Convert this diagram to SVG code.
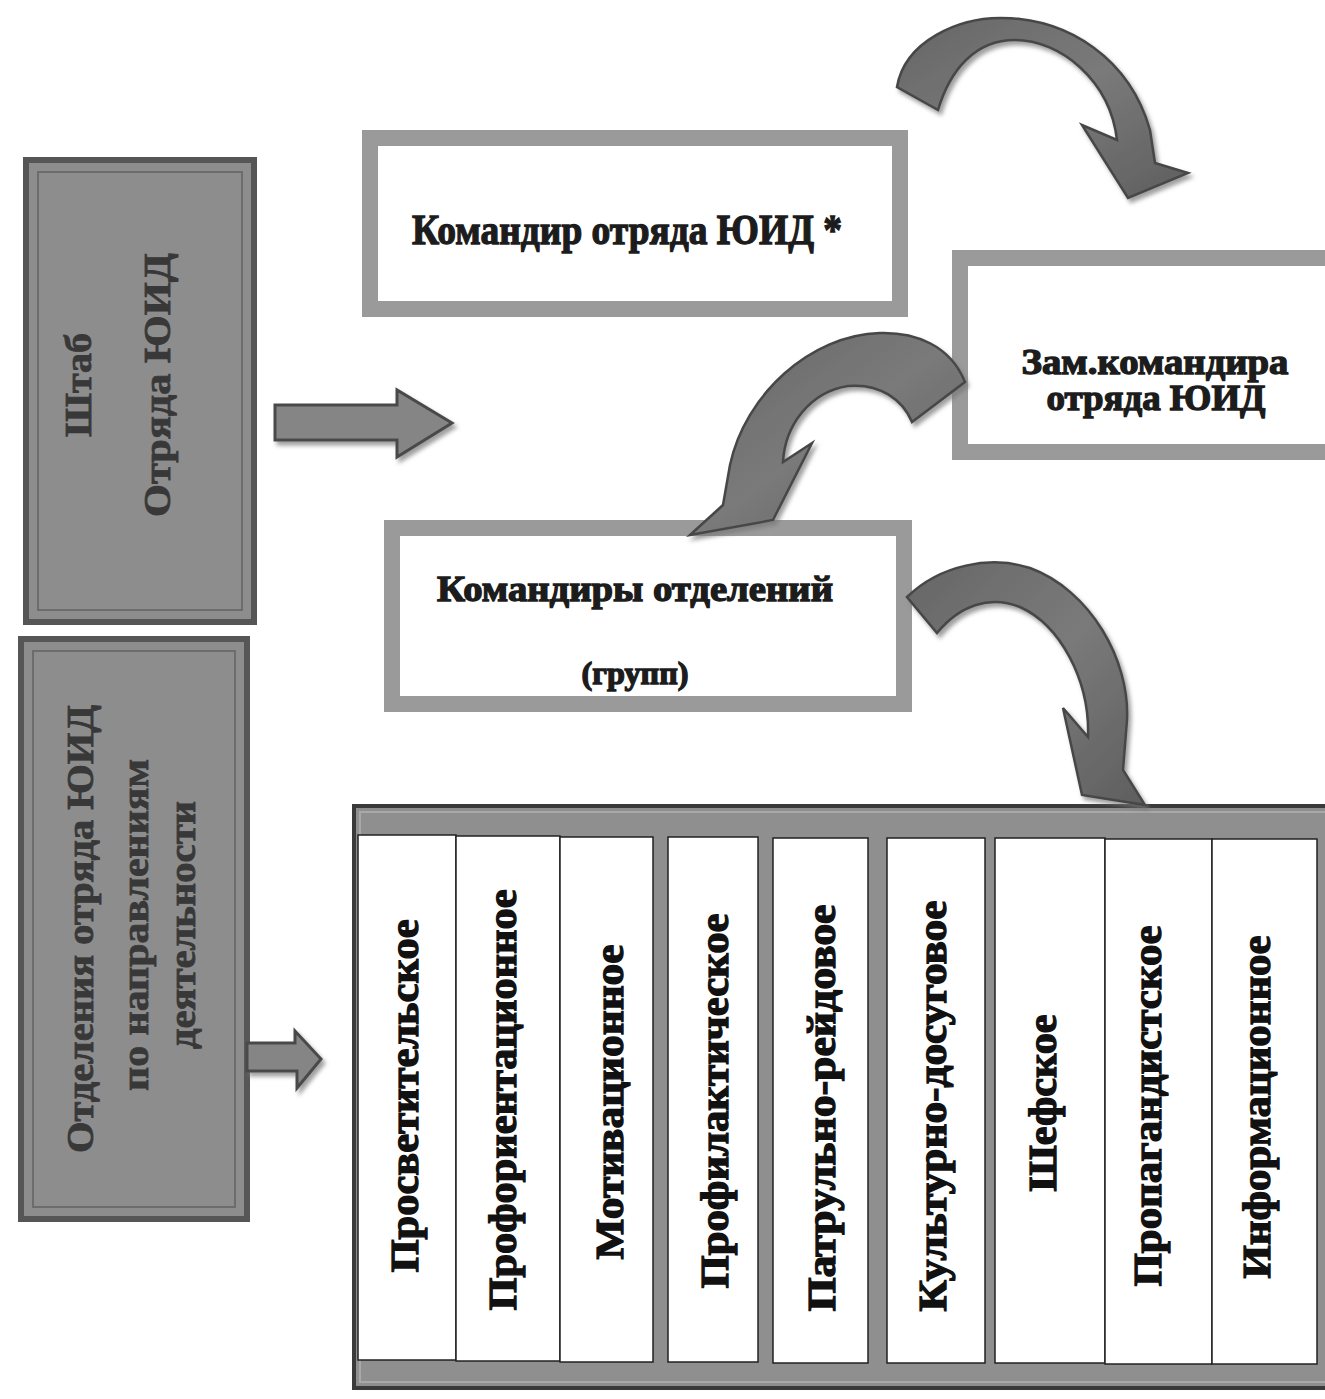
<svg xmlns="http://www.w3.org/2000/svg" width="1325" height="1399" viewBox="0 0 1325 1399">
<defs>
<filter id="sh" x="-20%" y="-20%" width="140%" height="140%"><feDropShadow dx="3" dy="4" stdDeviation="2" flood-color="#777" flood-opacity="0.7"/></filter>
<linearGradient id="cg" x1="0" y1="0" x2="1" y2="1"><stop offset="0" stop-color="#666"/><stop offset="0.5" stop-color="#7a7a7a"/><stop offset="1" stop-color="#5e5e5e"/></linearGradient>
<style>
.t{font-family:"Liberation Serif","Times New Roman",serif;font-weight:bold;}
.col{font-size:40px;fill:#111;stroke:#111;stroke-width:1.3;text-anchor:middle}
.side{font-size:37px;fill:#383838;stroke:#383838;stroke-width:0.8;text-anchor:middle}
.hd{fill:#1c1c1c;stroke:#1c1c1c;stroke-width:1.3;text-anchor:middle}
.frame{fill:#fff;stroke:#9a9a9a;stroke-width:16}
.carrow{fill:url(#cg);stroke:#474747;stroke-width:2.5;filter:url(#sh)}
.sarrow{fill:#858585;stroke:#4a4a4a;stroke-width:3;filter:url(#sh)}
.sbox{fill:#8d8d8d;stroke:#565656;stroke-width:6}
.sbox-in{fill:none;stroke:#6c6c6c;stroke-width:2}
.colbox{fill:#fff;stroke:#222;stroke-width:1.5}
</style>
</defs>
<rect width="1325" height="1399" fill="#fff"/>

<g id="node-shtab">
<rect class="sbox" x="26" y="160" width="228" height="462"/>
<rect class="sbox-in" x="38" y="172" width="204" height="438"/>
<text class="t side" transform="translate(91,385) rotate(-90)" textLength="104" lengthAdjust="spacingAndGlyphs">Штаб</text>
<text class="t side" transform="translate(170,385) rotate(-90)" textLength="264" lengthAdjust="spacingAndGlyphs">Отряда ЮИД</text>
</g>

<g id="node-otdeleniya">
<rect class="sbox" x="21" y="639" width="226" height="580"/>
<rect class="sbox-in" x="33" y="651" width="202" height="556"/>
<text class="t side" transform="translate(93,929) rotate(-90)" textLength="448" lengthAdjust="spacingAndGlyphs">Отделения отряда ЮИД</text>
<text class="t side" transform="translate(148,925) rotate(-90)" textLength="332" lengthAdjust="spacingAndGlyphs">по направлениям</text>
<text class="t side" transform="translate(195,925) rotate(-90)" textLength="248" lengthAdjust="spacingAndGlyphs">деятельности</text>
</g>

<g id="node-komandir">
<rect class="frame" x="370" y="138" width="530" height="171"/>
<text class="t hd" x="627" y="244" font-size="42" textLength="430" lengthAdjust="spacingAndGlyphs">Командир отряда ЮИД *</text>
</g>

<g id="node-zam">
<rect class="frame" x="960" y="258" width="380" height="194"/>
<text class="t hd" x="1155" y="374" font-size="35" textLength="267" lengthAdjust="spacingAndGlyphs">Зам.командира</text>
<text class="t hd" x="1156" y="410" font-size="35" textLength="219" lengthAdjust="spacingAndGlyphs">отряда ЮИД</text>
</g>

<g id="node-komandiry">
<rect class="frame" x="392" y="528" width="512" height="176"/>
<text class="t hd" x="635" y="601" font-size="35" textLength="396" lengthAdjust="spacingAndGlyphs">Командиры отделений</text>
<text class="t hd" x="635" y="684" font-size="31" textLength="107" lengthAdjust="spacingAndGlyphs">(групп)</text>
</g>

<g id="node-napravleniya">
<rect x="354" y="806" width="976" height="582" fill="#8f8f8f" stroke="#3a3a3a" stroke-width="4"/>
<rect x="360" y="812" width="970" height="570" fill="none" stroke="#a9a9a9" stroke-width="2"/>
<rect class="colbox" x="358" y="835" width="98" height="525"/>
<rect class="colbox" x="456" y="836" width="104" height="525"/>
<rect class="colbox" x="560" y="837" width="93" height="525"/>
<rect class="colbox" x="668" y="837" width="90" height="525"/>
<rect class="colbox" x="773" y="838" width="95" height="525"/>
<rect class="colbox" x="887" y="838" width="98" height="525"/>
<rect class="colbox" x="995" y="838" width="110" height="525"/>
<rect class="colbox" x="1105" y="839" width="107" height="525"/>
<rect class="colbox" x="1212" y="839" width="105" height="525"/>
<text class="t col" transform="translate(418,1096) rotate(-90)" textLength="353" lengthAdjust="spacingAndGlyphs">Просветительское</text>
<text class="t col" transform="translate(516,1100) rotate(-90)" textLength="421" lengthAdjust="spacingAndGlyphs">Профориентационное</text>
<text class="t col" transform="translate(623,1102) rotate(-90)" textLength="315" lengthAdjust="spacingAndGlyphs">Мотивационное</text>
<text class="t col" transform="translate(728,1101) rotate(-90)" textLength="375" lengthAdjust="spacingAndGlyphs">Профилактическое</text>
<text class="t col" transform="translate(835,1108) rotate(-90)" textLength="407" lengthAdjust="spacingAndGlyphs">Патрульно-рейдовое</text>
<text class="t col" transform="translate(946,1106) rotate(-90)" textLength="411" lengthAdjust="spacingAndGlyphs">Культурно-досуговое</text>
<text class="t col" transform="translate(1056,1103) rotate(-90)" textLength="177" lengthAdjust="spacingAndGlyphs">Шефское</text>
<text class="t col" transform="translate(1161,1106) rotate(-90)" textLength="361" lengthAdjust="spacingAndGlyphs">Пропагандистское</text>
<text class="t col" transform="translate(1270,1107) rotate(-90)" textLength="343" lengthAdjust="spacingAndGlyphs">Информационное</text>
</g>

<g id="connectors">
<path class="sarrow" d="M275,405 L397,405 L397,390 L452,423 L397,457 L397,440 L275,440 Z"/>
<path class="sarrow" d="M247,1043 L295,1043 L295,1031 L321,1059 L297,1088 L297,1071 L247,1071 Z"/>
<path class="carrow" d="M897,87 C905,40 960,18 1000,18 C1070,18 1130,60 1150,130 L1155,163 L1188,173 L1128,198 L1082,125 L1117,140 C1110,80 1060,40 1015,40 C975,40 950,70 938,110 Z"/>
<path class="carrow" d="M965,382 C950,345 915,332 880,333 C810,335 745,395 730,465 L723,505 L690,535 L773,520 L812,443 L783,462 C785,425 810,392 848,386 C880,383 903,400 912,422 Z"/>
<path class="carrow" d="M907,597 C940,565 990,555 1030,568 C1090,590 1130,660 1127,720 L1123,770 L1145,805 L1082,795 L1063,708 L1088,737 C1090,680 1060,625 1020,607 C990,595 960,605 937,633 Z"/>
</g>
</svg>
